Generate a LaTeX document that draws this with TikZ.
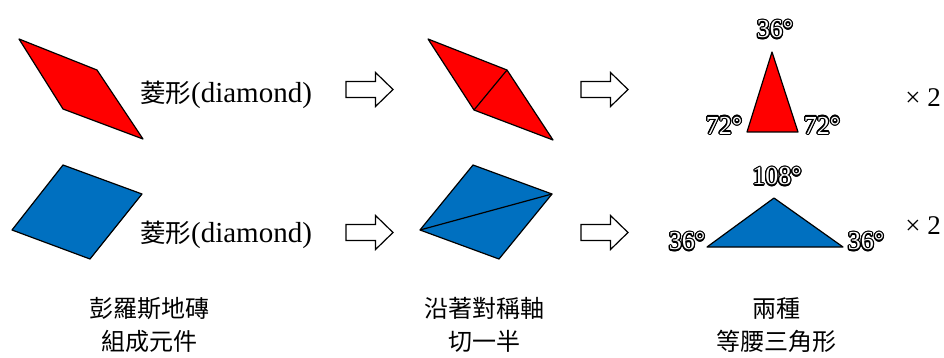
\documentclass[tikz,border=0pt]{standalone}
\usepackage{fontspec}
\usepackage{contour}
\setmainfont{Liberation Serif}
\newfontfamily\cjk{Noto Sans CJK TC}
\newfontfamily\degfont{Liberation Serif}
\contourlength{1.2pt}
\contournumber{16}
\definecolor{tilered}{HTML}{FF0000}
\definecolor{tileblue}{HTML}{0070C0}

\begin{document}
\begin{tikzpicture}[x=1pt, y=-1pt,
  tile/.style={draw=black, line width=1.2pt, line join=round, fill=#1},
  hollow/.style={draw=black, line width=1.2pt, line join=miter, fill=white},
  deg/.style={text=white, inner sep=0pt, font=\degfont\fontsize{26}{26}\selectfont},
  txt/.style={inner sep=0pt, align=center, font=\fontsize{24}{33}\selectfont},
  tilelabel/.style={inner sep=0pt, font=\fontsize{29}{32}\selectfont}]
\useasboundingbox (0,0) rectangle (944,358);

% left column: the two rhombi
\draw[tile=tilered] (19,39) -- (97,70) -- (143,139) -- (63,109) -- cycle;
\draw[tile=tileblue] (63,165) -- (142,194) -- (90,259) -- (12,230) -- cycle;
\node[tilelabel] (nameR) at (226,95) {{\cjk\fontsize{25.5}{30}\selectfont 菱形}(diamond)};
\node[tilelabel] (nameB) at (226,235) {{\cjk\fontsize{25.5}{30}\selectfont 菱形}(diamond)};

% middle column: cut along the axis
\coordinate (rt) at (507,70); \coordinate (rb) at (474,110);
\draw[tile=tilered] (428,39) -- (rt) -- (553,140) -- (rb) -- cycle;
\draw[line width=1.2pt] (rt) -- (rb);
\coordinate (bl) at (420,230); \coordinate (br) at (552,194);
\draw[tile=tileblue] (473,165) -- (br) -- (499,259) -- (bl) -- cycle;
\draw[line width=1.2pt] (bl) -- (br);

% hollow block arrows
\foreach \x/\y in {346/89.5, 581/89.5, 346/232.5, 581/232.5}
  \draw[hollow] (\x,\y) ++(0,-8) -- ++(29.5,0) -- ++(0,-9) -- ++(17.5,17)
    -- ++(-17.5,17) -- ++(0,-9) -- ++(-29.5,0) -- cycle;

% right column: the two isosceles triangles
\draw[tile=tilered] (772,52) -- (798,132) -- (747,132) -- cycle;
\node[deg] (topR) at (775,30) {\contour{black}{36°}};
\node[deg] (leftR) at (724,126) {\contour{black}{72°}};
\node[deg] (rightR) at (822,126) {\contour{black}{72°}};
\draw[tile=tileblue] (774,198) -- (843,247) -- (707,247) -- cycle;
\node[deg] (topB) at (777,177) {\contour{black}{108°}};
\node[deg] (leftB) at (687,242) {\contour{black}{36°}};
\node[deg] (rightB) at (866,242) {\contour{black}{36°}};
\node[txt, font=\fontsize{27}{30}\selectfont] (twoR) at (923,98) {× 2};
\node[txt, font=\fontsize{27}{30}\selectfont] (twoB) at (923,226) {× 2};

% captions
\node[txt, font=\cjk\fontsize{24}{33}\selectfont] (capL) at (149,325) {彭羅斯地磚\\組成元件};
\node[txt, font=\cjk\fontsize{24}{33}\selectfont] (capM) at (484,325) {沿著對稱軸\\切一半};
\node[txt, font=\cjk\fontsize{24}{33}\selectfont] (capR) at (776,325) {兩種\\等腰三角形};
\end{tikzpicture}
\end{document}
